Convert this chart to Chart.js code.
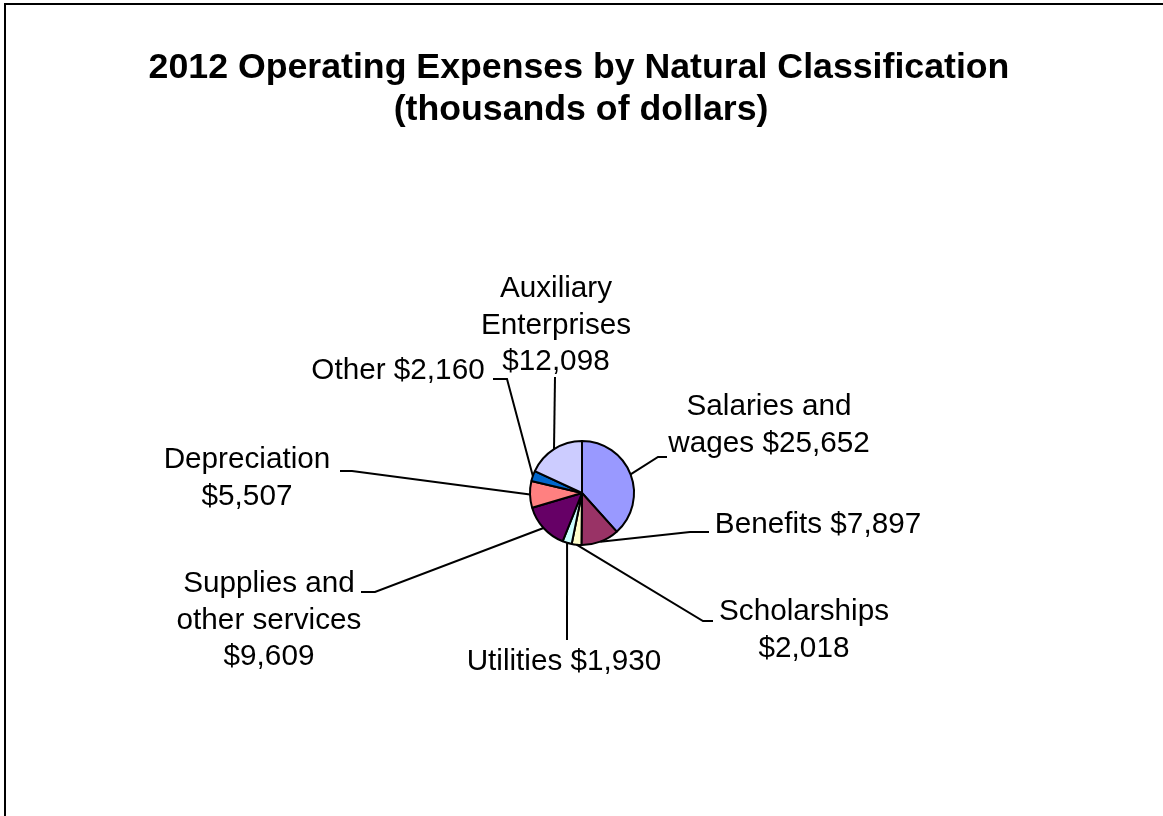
<!DOCTYPE html>
<html>
<head>
<meta charset="utf-8">
<script src="https://cdn.jsdelivr.net/npm/chart.js@4.4.1/dist/chart.umd.min.js"></script>
<style>
  html, body { margin: 0; padding: 0; background: #fff; }
  #wrap { width: 1163px; height: 816px; position: relative; }
</style>
</head>
<body>
<div id="wrap"><canvas id="c" width="1163" height="816"></canvas></div>
<script>
// ---- data ----
const titleLines = ["2012 Operating Expenses by Natural Classification", "(thousands of dollars)"];
const categories = ["Salaries and wages", "Benefits", "Scholarships", "Utilities",
  "Supplies and other services", "Depreciation", "Other", "Auxiliary Enterprises"];
const values = [25652, 7897, 2018, 1930, 9609, 5507, 2160, 12098];
const colors = ["#9999FF", "#993366", "#FFFFCC", "#CCFFFF", "#660066", "#FF8080", "#0066CC", "#CCCCFF"];
// words per label line
const labelBreaks = [[2, 2], [2], [1, 1], [2], [2, 2, 1], [1, 1], [2], [1, 1, 1]];

// ---- layout (label placement) ----
const labelLayout = [
  { x: 769, y: 415, elbow: [658, 457], end: [667, 457] },
  { x: 818, y: 533, elbow: [690, 532], end: [709, 532] },
  { x: 804, y: 620, elbow: [703, 621], end: [713, 621] },
  { x: 564, y: 670, elbow: [567, 640], end: [567, 640] },
  { x: 269, y: 592, elbow: [375, 592], end: [361, 592] },
  { x: 247, y: 468, elbow: [352, 471], end: [340, 471] },
  { x: 398, y: 379, elbow: [507, 379], end: [493, 379] },
  { x: 556, y: 297, elbow: [555, 377], end: [555, 377] }
];
const LINE_H = 36.5;
const FONT = "Liberation Sans, Arial, sans-serif";

function fmt(v) { return "$" + v.toLocaleString("en-US"); }
function labelLines(i) {
  const words = (categories[i] + " " + fmt(values[i])).split(" ");
  const out = []; let k = 0;
  for (const n of labelBreaks[i]) { out.push(words.slice(k, k + n).join(" ")); k += n; }
  return out;
}

const decor = {
  id: "decor",
  beforeDraw(chart) {
    const ctx = chart.ctx;
    ctx.save();
    ctx.fillStyle = "#fff";
    ctx.fillRect(0, 0, chart.width, chart.height);
    ctx.strokeStyle = "#000";
    ctx.lineWidth = 2;
    ctx.strokeRect(5, 4, 1200, 900);
    ctx.fillStyle = "#000";
    ctx.textAlign = "center";
    ctx.textBaseline = "alphabetic";
    ctx.font = "bold 35.7px " + FONT;
    ctx.fillText(titleLines[0], 579, 78);
    ctx.fillText(titleLines[1], 581, 120);
    ctx.restore();
  },
  afterDraw(chart) {
    const ctx = chart.ctx;
    const meta = chart.getDatasetMeta(0);
    ctx.save();
    ctx.strokeStyle = "#000";
    ctx.lineWidth = 2;
    ctx.fillStyle = "#000";
    ctx.font = "29.7px " + FONT;
    ctx.textAlign = "center";
    ctx.textBaseline = "alphabetic";
    meta.data.forEach((arc, i) => {
      const p = arc.getProps(["x", "y", "startAngle", "endAngle", "outerRadius"], true);
      const mid = (p.startAngle + p.endAngle) / 2;
      const ax = p.x + Math.cos(mid) * p.outerRadius;
      const ay = p.y + Math.sin(mid) * p.outerRadius;
      const L = labelLayout[i];
      ctx.beginPath();
      ctx.moveTo(ax, ay);
      ctx.lineTo(L.elbow[0], L.elbow[1]);
      ctx.lineTo(L.end[0], L.end[1]);
      ctx.stroke();
      labelLines(i).forEach((t, j) => ctx.fillText(t, L.x, L.y + j * LINE_H));
    });
    ctx.restore();
  }
};

new Chart(document.getElementById("c"), {
  type: "pie",
  data: {
    labels: categories,
    datasets: [{
      data: values,
      backgroundColor: colors,
      borderColor: "#000",
      borderWidth: 2
    }]
  },
  options: {
    responsive: false,
    animation: false,
    layout: { padding: { left: 529, right: 528, top: 440, bottom: 270 } },
    plugins: { legend: { display: false }, title: { display: false }, tooltip: { enabled: false } }
  },
  plugins: [decor]
});
</script>
</body>
</html>
